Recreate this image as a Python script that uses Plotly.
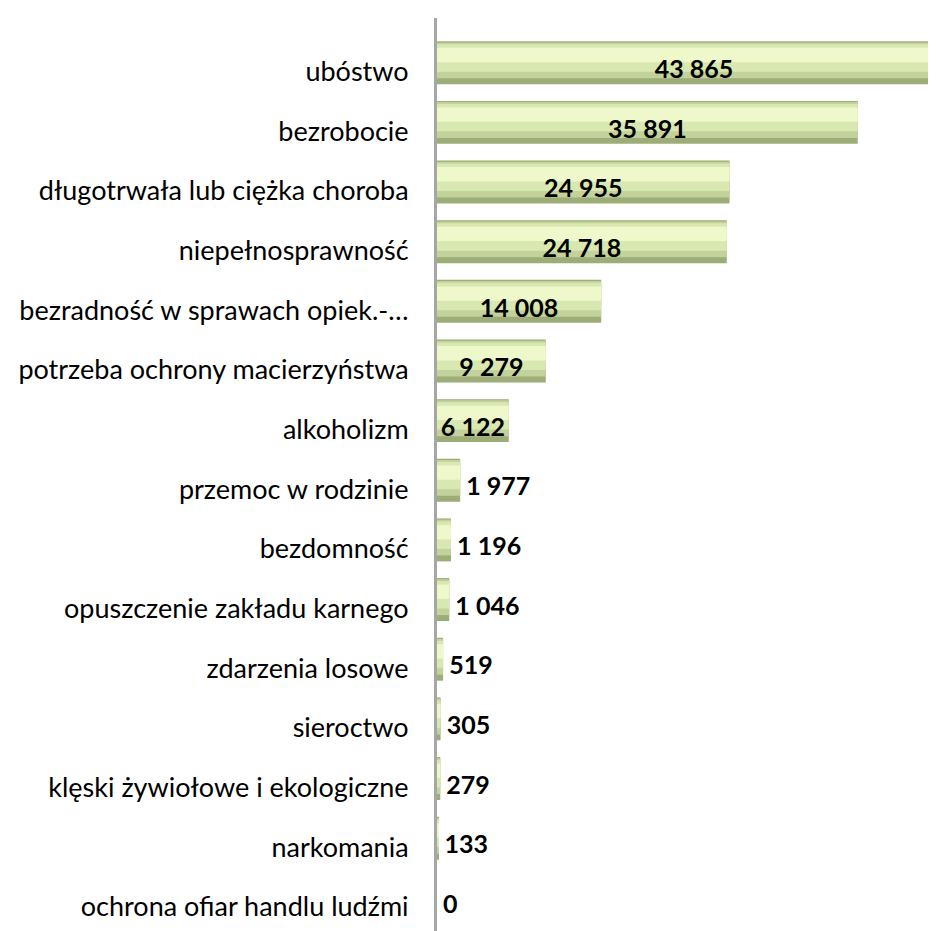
import plotly.graph_objects as go

categories = [
    "ubóstwo",
    "bezrobocie",
    "długotrwała lub ciężka choroba",
    "niepełnosprawność",
    "bezradność w sprawach opiek.-…",
    "potrzeba ochrony macierzyństwa",
    "alkoholizm",
    "przemoc w rodzinie",
    "bezdomność",
    "opuszczenie zakładu karnego",
    "zdarzenia losowe",
    "sieroctwo",
    "klęski żywiołowe i ekologiczne",
    "narkomania",
    "ochrona ofiar handlu ludźmi",
]
values = [43865, 35891, 24955, 24718, 14008, 9279, 6122, 1977, 1196, 1046, 519, 305, 279, 133, 0]

FONT = "Lato, Open Sans, sans-serif"
labels = [f"{v:,}".replace(",", " ") for v in values]

# big bars get the label in the middle, small ones just past the end
inside = [v > 5000 for v in values]
label_x = [v / 2 if ins else v for v, ins in zip(values, inside)]
label_pos = ["middle center" if ins else "middle right" for ins in inside]
label_txt = [t if ins else " " + t for t, ins in zip(labels, inside)]

fig = go.Figure()

# fake cylinder shading: stacked overlays, light on top, dark underneath
# (bars sit a little above their labels, like the 3D original)
shades = [
    (0.72, -0.51, "#9dad77"),
    (0.60, -0.49, "#c3d19b"),
    (0.46, -0.46, "#d9e8b0"),
    (0.24, -0.40, "#eef8cb"),
]
for w, off, col in shades:
    fig.add_trace(go.Bar(y=categories, x=values, orientation="h", width=w, offset=off,
                         marker=dict(color=col, line_width=0),
                         hoverinfo="skip", showlegend=False))

fig.add_trace(go.Scatter(y=categories, x=label_x, mode="text",
                         text=label_txt, textposition=label_pos, cliponaxis=False,
                         textfont=dict(family=FONT, size=25, color="#000000", weight="bold"),
                         hoverinfo="skip", showlegend=False))

fig.update_layout(
    width=936, height=931,
    barmode="overlay",
    paper_bgcolor="white", plot_bgcolor="white",
    font=dict(family=FONT, color="#000000", size=27),
    margin=dict(l=429, r=0, t=10, b=6),
    showlegend=False,
)
fig.update_xaxes(range=[0, 43250], visible=False, fixedrange=True)
fig.update_yaxes(
    categoryorder="array", categoryarray=categories,
    range=[14.44, -0.90], automargin=False,
    showline=True, linecolor="#a6a6a6", linewidth=3,
    ticks="", showgrid=False, ticklabelstandoff=20,
    tickfont=dict(family=FONT, size=27, color="#000000"),
)

fig.write_html("out.html")
